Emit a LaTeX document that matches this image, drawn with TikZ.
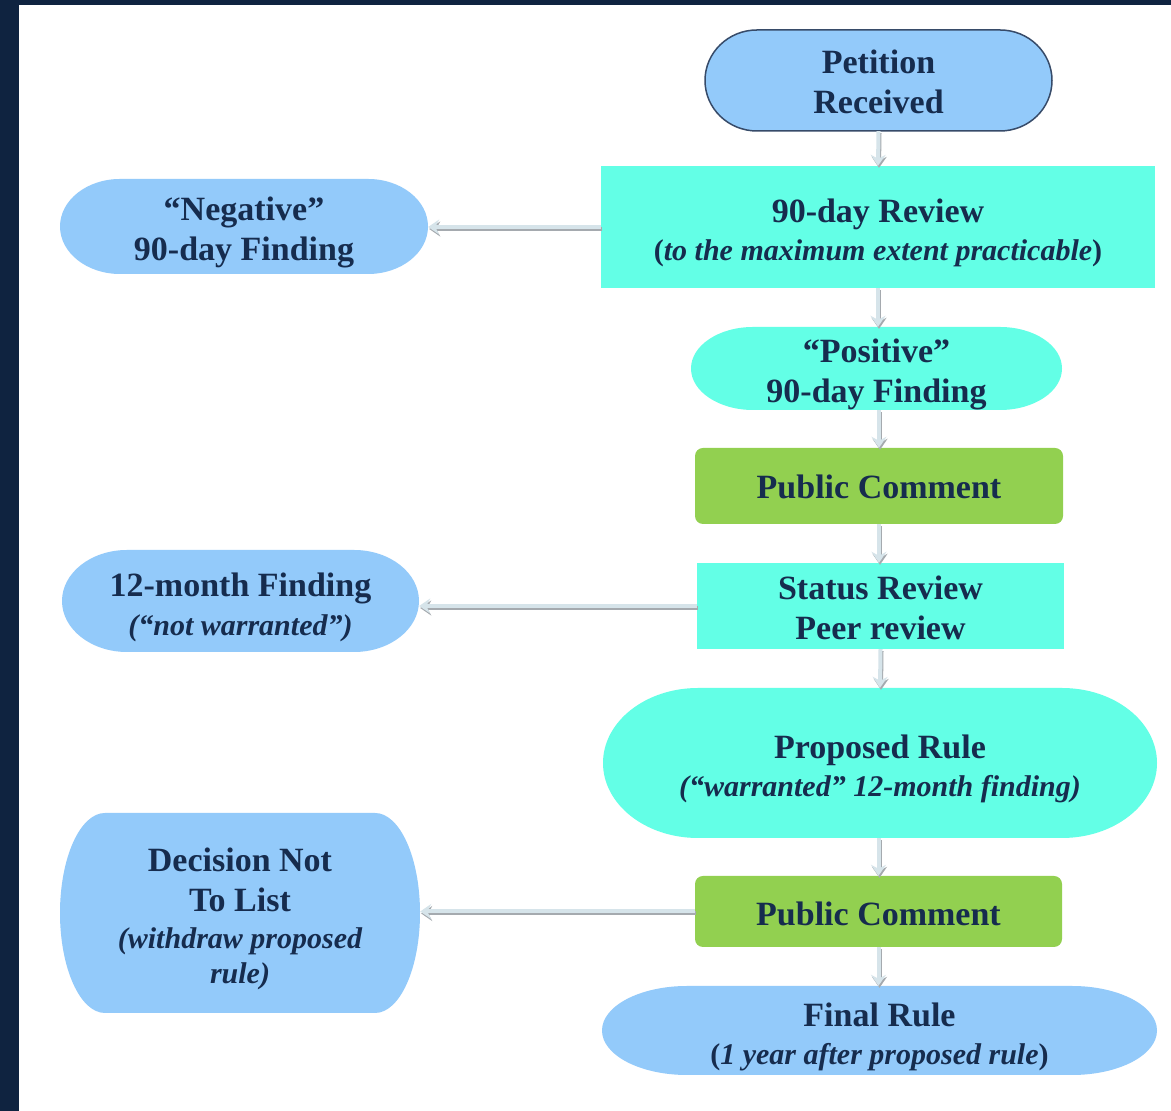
\documentclass[tikz,border=0pt]{standalone}
\usepackage{fontspec}
\setmainfont{Liberation Serif}
\usetikzlibrary{arrows.meta,calc}
\definecolor{navyframe}{RGB}{15,35,64}
\definecolor{lblue}{RGB}{147,202,250}
\definecolor{aqua}{RGB}{99,255,230}
\definecolor{lgreen}{RGB}{146,208,80}
\definecolor{tcol}{RGB}{22,44,78}
\definecolor{lcol}{RGB}{214,228,234}
\definecolor{shcol}{RGB}{165,170,175}
\definecolor{outl}{RGB}{55,75,105}
% pill with elliptical ends: cx, cy, w, h, rx, style
\newcommand\mkpill[6]{%
  \path[#6] ({#1-#3/2+#5},{#2+#4/2}) -- ({#1+#3/2-#5},{#2+#4/2})
    arc[start angle=90,end angle=-90,x radius=#5,y radius={#4/2}]
    -- ({#1-#3/2+#5},{#2-#4/2})
    arc[start angle=270,end angle=90,x radius=#5,y radius={#4/2}] -- cycle;}
\newcommand\itl[1]{{\fontsize{30}{38}\selectfont\itshape #1}}
\begin{document}
\begin{tikzpicture}[x=1pt,y=1pt,
  frame/.style={inner sep=0pt},
  txt/.style={inner sep=0pt, align=center, text=tcol,
    font=\bfseries\fontsize{34}{40}\selectfont},
  lab/.style={txt, yshift=-6pt},
  conn/.style={draw=lcol, line width=4pt,
    -{Stealth[length=11pt,width=15pt,inset=4pt]},
    preaction={draw=shcol, line width=4pt, transform canvas={shift={(1pt,-2pt)}}}},
]
\fill[navyframe] (0,0) rectangle (1171,1111);
\fill[white] (19,0) rectangle (1171,1106);

% shapes
\mkpill{878.5}{1030.5}{347}{101}{52}{fill=lblue, draw=outl, line width=1.5pt}
\fill[aqua] (601,823) rectangle (1155,945);
\mkpill{244}{884.5}{368}{95}{60}{fill=lblue}
\mkpill{876.5}{742.5}{371}{83}{62}{fill=aqua}
\fill[lgreen, rounded corners=8pt] (695,587) rectangle (1063,663);
\fill[aqua] (697,462) rectangle (1064,548);
\mkpill{240.5}{510}{357}{102}{65}{fill=lblue}
\mkpill{880}{348}{554}{150}{95}{fill=aqua}
\mkpill{240}{198}{360}{200}{45}{fill=lblue}
\fill[lgreen, rounded corners=8pt] (695,164) rectangle (1062,235);
\mkpill{879.5}{80.5}{555}{89}{85}{fill=lblue}

% frame nodes (for connectors)
\node[frame, minimum width=347pt, minimum height=101pt] (pet) at (878.5,1030.5) {};
\node[frame, minimum width=554pt, minimum height=122pt] (rev) at (878,884) {};
\node[frame, minimum width=368pt, minimum height=95pt] (neg) at (244,884.5) {};
\node[frame, minimum width=371pt, minimum height=83pt] (pos) at (876.5,742.5) {};
\node[frame, minimum width=368pt, minimum height=76pt] (pc1) at (879,625) {};
\node[frame, minimum width=367pt, minimum height=86pt] (stat) at (880.5,505) {};
\node[frame, minimum width=357pt, minimum height=102pt] (m12) at (240.5,510) {};
\node[frame, minimum width=554pt, minimum height=150pt] (prop) at (880,348) {};
\node[frame, minimum width=360pt, minimum height=200pt] (dec) at (240,198) {};
\node[frame, minimum width=367pt, minimum height=71pt] (pc2) at (878.5,199.5) {};
\node[frame, minimum width=555pt, minimum height=89pt] (fin) at (879.5,80.5) {};

% texts
\node[txt, yshift=-1pt] (petT) at (pet) {Petition\\Received};
\node[lab] (revT) at (rev) {90-day Review\\[-2pt]{\fontsize{30}{38}\selectfont(\textit{to the maximum extent practicable})}};
\node[lab] (negT) at (neg) {“Negative”\\90-day Finding};
\node[lab] (posT) at (pos) {“Positive”\\90-day Finding};
\node[txt, yshift=-1pt] (pc1T) at (pc1) {Public Comment};
\node[txt, yshift=-2pt] (statT) at (stat) {Status Review\\Peer review};
\node[lab] (m12T) at (m12) {12-month Finding\\[-1pt]\itl{(“not warranted”)}};
\node[lab] (propT) at (prop) {Proposed Rule\\[-2pt]\itl{(“warranted” 12-month finding)}};
\node[lab] (decT) at (dec) {Decision Not\\To List\\[-3pt]\itl{(withdraw proposed}\\[-5pt]\itl{rule)}};
\node[txt, yshift=-2pt] (pc2T) at (pc2) {Public Comment};
\node[lab] (finT) at (fin) {Final Rule\\[-2pt]{\fontsize{30}{38}\selectfont(\textit{1 year after proposed rule})}};

% connectors
\draw[conn] (pet.south) -- (rev.north);
\draw[conn] (rev.south) -- (rev.south |- pos.north);
\draw[conn] (pos.south -| pc1.north) -- (pc1.north);
\draw[conn] (pc1.south) -- (pc1.south |- stat.north);
\draw[conn] (stat.south) -- (prop.north);
\draw[conn] (prop.south -| pc2.north) -- (pc2.north);
\draw[conn] (pc2.south) -- (pc2.south |- fin.north);
\draw[conn] (rev.west) -- (neg.east |- rev.west);
\draw[conn] (stat.west) -- (m12.east |- stat.west);
\draw[conn] (pc2.west) -- (dec.east |- pc2.west);
\end{tikzpicture}
\end{document}
